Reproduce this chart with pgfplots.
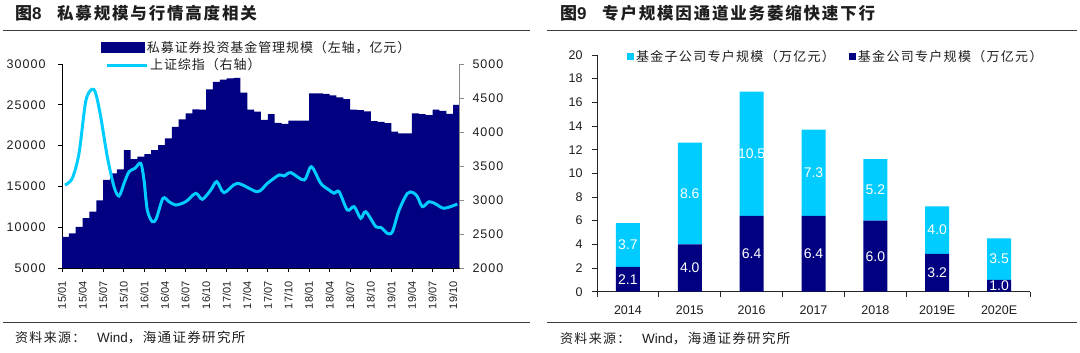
\documentclass[border=0pt]{standalone}
\usepackage{pgfplots}
\pgfplotsset{compat=1.18}
\usepackage{fontspec}
\setmainfont{Liberation Sans}
\newfontfamily\cjk{Noto Sans CJK SC}
\newfontfamily\cjkT[LetterSpace=11]{Noto Sans CJK SC}
\newfontfamily\cjkL[LetterSpace=7]{Noto Sans CJK SC}
\newfontfamily\cjkR[LetterSpace=10]{Noto Sans CJK SC}
\newfontfamily\numA[LetterSpace=8]{Liberation Sans}
\definecolor{navy}{RGB}{0,0,128}
\definecolor{sky}{RGB}{0,204,255}
\definecolor{axgray}{RGB}{140,140,140}
\definecolor{rulegray}{RGB}{60,60,60}
\definecolor{txt}{RGB}{30,30,30}
\begin{document}
\begin{tikzpicture}
\path[use as bounding box] (0bp,0bp) rectangle (1080bp,-353bp);
% titles
\node[anchor=west, inner sep=0pt, font=\fontsize{17bp}{20bp}\selectfont\bfseries, text=txt] at (15bp,-13.5bp) {{\cjk\bfseries 图}8};
\node[anchor=west, inner sep=0pt, font=\fontsize{16.5bp}{20bp}\selectfont\cjkT\bfseries, text=txt] at (57bp,-13.5bp) {私募规模与行情高度相关};
\node[anchor=west, inner sep=0pt, font=\fontsize{17bp}{20bp}\selectfont\bfseries, text=txt] at (560bp,-13.5bp) {{\cjk\bfseries 图}9};
\node[anchor=west, inner sep=0pt, font=\fontsize{16.5bp}{20bp}\selectfont\cjkT\bfseries, text=txt] at (602bp,-13.5bp) {专户规模因通道业务萎缩快速下行};
% rules
\draw[rulegray, line width=1bp] (3bp,-30bp) -- (530bp,-30bp);
\draw[rulegray, line width=1bp] (547bp,-30bp) -- (1077bp,-30bp);
\draw[rulegray, line width=1bp] (3bp,-322.5bp) -- (530bp,-322.5bp);
\draw[rulegray, line width=1bp] (547bp,-322.5bp) -- (1077bp,-322.5bp);
% sources
\node[anchor=west, inner sep=0pt, font=\cjkR\fontsize{13bp}{15bp}\selectfont, text=txt] at (15bp,-338bp) {资料来源：};
\node[anchor=west, inner sep=0pt, font=\fontsize{13.5bp}{15bp}\selectfont, text=txt] at (97bp,-338bp) {Wind{\cjkR ，海通证券研究所}};
\node[anchor=west, inner sep=0pt, font=\cjkR\fontsize{13bp}{15bp}\selectfont, text=txt] at (560bp,-339bp) {资料来源：};
\node[anchor=west, inner sep=0pt, font=\fontsize{13.5bp}{15bp}\selectfont, text=txt] at (642bp,-339bp) {Wind{\cjkR ，海通证券研究所}};

% ===== left chart: bars (left axis)
\begin{axis}[
  at={(62bp,-268bp)}, anchor=south west, scale only axis,
  width=398bp, height=204bp,
  xmin=0, xmax=58, ymin=5000, ymax=30000,
  scaled y ticks=false,
  axis x line*=bottom, axis y line*=left,
  axis line style={black, line width=0.8bp},
  tick align=outside, major tick length=4bp,
  tick style={black, line width=0.8bp},
  xtick={0,3,...,57},
  xticklabels={15/01,15/04,15/07,15/10,16/01,16/04,16/07,16/10,17/01,17/04,17/07,17/10,18/01,18/04,18/07,18/10,19/01,19/04,19/07,19/10},
  x tick label style={rotate=90, anchor=east, font=\fontsize{11bp}{12bp}\selectfont, text=txt},
  xticklabel shift=6bp,
  ytick={5000,10000,...,30000},
  yticklabels={5000,10000,15000,20000,25000,30000},
  y tick label style={font=\numA\fontsize{12.5bp}{13bp}\selectfont, text=txt},
  yticklabel shift=9bp,
  legend style={draw=none, fill=none, at={(axis description cs:0.0975,1.081)}, anchor=west, inner sep=0pt,
    font=\cjkL\fontsize{13bp}{14bp}\selectfont, text=txt},
]
\addplot[const plot, fill=navy, draw=none,
  legend image code/.code={\fill[navy] (0bp,-5.5bp) rectangle (44bp,5.5bp);}] coordinates {
(0,8800) (1,9250) (2,10050) (3,11100) (4,11900) (5,13300) (6,15800) (7,16600) (8,17100) (9,19450)
(10,18350) (11,18650) (12,18950) (13,19450) (14,20050) (15,20900) (16,22300) (17,23200) (18,23950) (19,24450)
(20,24400) (21,26900) (22,27800) (23,28100) (24,28250) (25,28300) (26,26500) (27,24400) (28,24150) (29,23150)
(30,23850) (31,22800) (32,22650) (33,23050) (34,23050) (35,23050) (36,26400) (37,26400) (38,26350) (39,26150)
(40,25900) (41,25700) (42,24400) (43,24350) (44,24200) (45,23000) (46,22900) (47,22750) (48,21700) (49,21500)
(50,21500) (51,23950) (52,23850) (53,23750) (54,24400) (55,24250) (56,23900) (57,25000) (58,25000)
} \closedcycle;
\addlegendentry{私募证券投资基金管理规模（左轴，亿元）}
\end{axis}

% ===== left chart: line (right axis)
\begin{axis}[
  at={(62bp,-268bp)}, anchor=south west, scale only axis,
  width=398bp, height=204bp,
  xmin=0, xmax=58, ymin=2000, ymax=5000,
  scaled y ticks=false,
  axis x line=none, axis y line*=right,
  axis line style={axgray, line width=1bp},
  tick align=outside, major tick length=4bp,
  tick style={axgray, line width=0.8bp},
  ytick={2000,2500,...,5000},
  yticklabels={2000,2500,3000,3500,4000,4500,5000},
  y tick label style={font=\numA\fontsize{12.5bp}{13bp}\selectfont, text=txt},
  yticklabel shift=5bp,
  legend style={draw=none, fill=none, at={(axis description cs:0.108,0.995)}, anchor=west, inner sep=0pt,
    font=\cjkL\fontsize{13bp}{14bp}\selectfont, text=txt},
]
\addplot[sky, line width=3bp, smooth,
  legend image code/.code={\draw[sky, line width=3bp] (0bp,0bp) -- (40bp,0bp);}] coordinates {
(0.44,3220) (1.50,3319) (2.48,3687) (3.45,4446) (4.33,4628) (4.91,4569) (5.64,4225) (6.60,3637)
(7.58,3196) (8.31,3059) (9.04,3245) (9.77,3416) (10.64,3466) (11.47,3540) (11.95,3294) (12.43,2853)
(13.16,2681) (13.75,2731) (14.72,3025) (15.60,2975) (16.57,2926) (18.03,2975) (19.49,3098) (20.45,3010)
(21.68,3147) (22.55,3270) (23.62,3108) (25.55,3245) (28.47,3122) (29.93,3245) (31.63,3368) (32.36,3353)
(33.34,3402) (35.28,3294) (36.34,3490) (37.71,3245) (38.92,3147) (39.65,3100) (40.38,3122) (41.59,2853)
(42.57,2902) (43.54,2731) (44.27,2828) (45.73,2608) (46.46,2598) (47.42,2510) (48.15,2534) (49.13,2853)
(50.34,3098) (51.17,3108) (51.79,3049) (52.52,2902) (53.50,2975) (54.47,2941) (55.68,2878) (57.62,2941)
};
\addlegendentry{上证综指（右轴）}
\end{axis}

% ===== right chart: stacked bars
\begin{axis}[
  at={(597bp,-291.7bp)}, anchor=south west, scale only axis,
  width=433bp, height=236.7bp,
  xmin=-0.5, xmax=6.5, ymin=0, ymax=20,
  ybar stacked, bar width=24bp,
  axis x line*=bottom, axis y line*=left,
  axis line style={black!85, line width=0.8bp},
  tick align=outside, major tick length=5bp,
  tick style={black!85, line width=0.8bp},
  xtick={-0.5,0.5,...,6.5}, x tick label as interval,
  xticklabels={2014,2015,2016,2017,2018,2019E,2020E},
  xticklabel shift=6bp,
  ytick={0,2,...,20},
  yticklabels={0,2,4,6,8,10,12,14,16,18,20},
  yticklabel shift=6bp,
  tick label style={font=\fontsize{12.5bp}{13bp}\selectfont, text=txt},
  legend columns=2, reverse legend,
  legend style={draw=none, fill=none, at={(axis description cs:0.069,0.9937)}, anchor=west, inner sep=0pt,
    font=\cjkR\fontsize{13bp}{14bp}\selectfont, text=txt,
    /tikz/every even column/.append style={column sep=12bp}},
]
\addplot[fill=navy, draw=none,
  legend image code/.code={\fill[navy] (0bp,-3.5bp) rectangle (7bp,3.5bp);}] coordinates {
(0,2.1) (1,4.0) (2,6.4) (3,6.4) (4,6.0) (5,3.2) (6,1.0)};
\addlegendentry{基金公司专户规模（万亿元）}
\addplot[fill=sky, draw=none,
  legend image code/.code={\fill[sky] (0bp,-3.5bp) rectangle (7bp,3.5bp);}] coordinates {
(0,3.7) (1,8.6) (2,10.5) (3,7.3) (4,5.2) (5,4.0) (6,3.5)};
\addlegendentry{基金子公司专户规模（万亿元）}
\end{axis}

% ===== right chart: value labels
\begin{axis}[
  at={(597bp,-291.7bp)}, anchor=south west, scale only axis,
  width=433bp, height=236.7bp,
  xmin=-0.5, xmax=6.5, ymin=0, ymax=20,
  hide axis, clip=false,
]
\addplot[draw=none, mark=none, nodes near coords, point meta=explicit symbolic,
  every node near coord/.append style={white, anchor=center, inner sep=0pt, font=\fontsize{14bp}{14bp}\selectfont}]
  coordinates {
(0,1.05)[2.1] (1,2.0)[4.0] (2,3.2)[6.4] (3,3.2)[6.4] (4,3.0)[6.0] (5,1.6)[3.2] (6,0.5)[1.0]
(0,3.95)[3.7] (1,8.3)[8.6] (2,11.65)[10.5] (3,10.05)[7.3] (4,8.6)[5.2] (5,5.2)[4.0] (6,2.75)[3.5]
};
\end{axis}
\end{tikzpicture}
\end{document}
